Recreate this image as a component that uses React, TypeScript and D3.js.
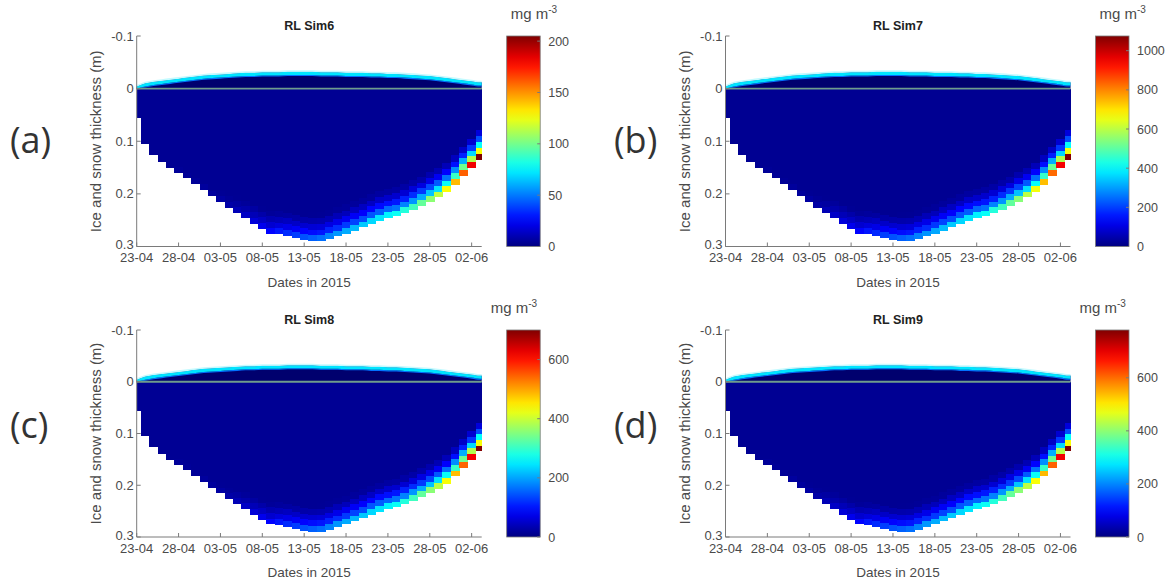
import React from 'react';
import * as d3 from 'd3';

// dates along the x axis (days since 23-04-2015)
const tickDays = [0, 5, 10, 15, 20, 25, 30, 35, 40];
const tickDates = ['23-04', '28-04', '03-05', '08-05', '13-05', '18-05', '23-05', '28-05', '02-06'];
const lastDay = 41.2;

const depthTicks = [-0.1, 0, 0.1, 0.2, 0.3];
const depthLabels = ['-0.1', '0', '0.1', '0.2', '0.3'];

// ice thickness (m) per day
const iceThickness = [
  0.056, 0.105, 0.125, 0.138, 0.15, 0.16, 0.17, 0.181, 0.192, 0.204,
  0.215, 0.226, 0.235, 0.245, 0.256, 0.266, 0.275, 0.276, 0.279, 0.283,
  0.287, 0.289, 0.289, 0.285, 0.28, 0.275, 0.269, 0.263, 0.256, 0.25,
  0.245, 0.242, 0.236, 0.229, 0.222, 0.214, 0.206, 0.196, 0.182, 0.165,
  0.15, 0.134,
];

// snow thickness (m) per day, above the ice surface
const snowThickness = [
  0.004, 0.01, 0.013, 0.015, 0.017, 0.019, 0.021, 0.023, 0.025, 0.026,
  0.027, 0.028, 0.029, 0.03, 0.03, 0.031, 0.031, 0.031, 0.032, 0.032,
  0.032, 0.032, 0.031, 0.031, 0.031, 0.03, 0.03, 0.03, 0.029, 0.029,
  0.028, 0.028, 0.027, 0.026, 0.025, 0.024, 0.022, 0.02, 0.018, 0.016,
  0.014, 0.012,
];

// chl a in the bottom ice layer (mg m-3) per day
const sim6Bottom = [
  4, 4, 4, 4, 4, 5, 5, 5, 6, 6, 7,
  8, 11, 14, 18, 22, 26, 30, 34, 38, 42,
  45, 48, 52, 56, 60, 63, 66, 69, 72, 75,
  79, 84, 90, 97, 105, 115, 127, 142, 160, 182, 205,
];
const sim7Bottom = [
  20, 20, 20, 20, 20, 25, 25, 25, 30, 30, 35,
  40, 55, 75, 95, 115, 135, 155, 175, 200, 220,
  235, 250, 270, 290, 310, 330, 345, 360, 375, 390,
  410, 440, 470, 505, 545, 600, 660, 740, 830, 950, 1070,
];
const sim8Bottom = [
  14, 14, 14, 14, 14, 17, 17, 17, 20, 20, 24,
  27, 37, 48, 61, 75, 88, 102, 116, 129, 143,
  153, 163, 177, 190, 204, 214, 224, 235, 245, 255,
  269, 286, 306, 330, 357, 391, 432, 483, 544, 619, 697,
];
const sim9Bottom = [
  15, 15, 15, 15, 15, 19, 19, 19, 23, 23, 27,
  30, 42, 53, 68, 84, 99, 114, 129, 144, 160,
  171, 182, 198, 213, 228, 239, 251, 262, 274, 285,
  300, 319, 342, 369, 399, 437, 483, 540, 608, 692, 779,
];

// share of the bottom value kept in the layers above it
const layerProfile = [1, 0.62, 0.38, 0.2, 0.09];
const layerThickness = 0.011;

const panels = [
  { tag: '(a)', title: 'RL Sim6', bottom: sim6Bottom, interior: 4, cmax: 205, cticks: [0, 50, 100, 150, 200], col: 0, row: 0 },
  { tag: '(b)', title: 'RL Sim7', bottom: sim7Bottom, interior: 20, cmax: 1075, cticks: [0, 200, 400, 600, 800, 1000], col: 1, row: 0 },
  { tag: '(c)', title: 'RL Sim8', bottom: sim8Bottom, interior: 14, cmax: 700, cticks: [0, 200, 400, 600], col: 0, row: 1 },
  { tag: '(d)', title: 'RL Sim9', bottom: sim9Bottom, interior: 15, cmax: 780, cticks: [0, 200, 400, 600], col: 1, row: 1 },
];

const jet = (t: number) => {
  const c = (v: number) => Math.round(255 * Math.max(0, Math.min(1, v)));
  return `rgb(${c(1.5 - Math.abs(4 * t - 3))},${c(1.5 - Math.abs(4 * t - 2))},${c(1.5 - Math.abs(4 * t - 1))})`;
};

const font = '"Liberation Sans", Arial, sans-serif';
const textGrey = '#4a4a4a';
const axisGrey = '#7a7a7a';

const rows = [{ top: 36, bottom: 246.5 }, { top: 330, bottom: 537 }];
const cols = [{ left: 136.7 }, { left: 725.5 }];
const axW = 345;

const Panel = ({ p }: { p: typeof panels[number] }) => {
  const { top, bottom } = rows[p.row];
  const { left } = cols[p.col];
  const x = d3.scaleLinear().domain([0, lastDay]).range([left, left + axW]);
  const y = d3.scaleLinear().domain([-0.1, 0.3]).range([top, bottom]);
  const color = d3.scaleSequential(jet).domain([0, p.cmax]);
  const days = d3.range(iceThickness.length);

  const cells: JSX.Element[] = [];
  days.forEach(d => {
    const x0 = x(Math.max(0, d - 0.5));
    const x1 = x(Math.min(lastDay, d + 0.5));
    const ice = iceThickness[d];
    cells.push(<rect key={`i${d}`} x={x0} y={y(0)} width={x1 - x0 + 0.6} height={y(ice) - y(0)} fill={color(p.interior)} />);
    layerProfile.forEach((f, k) => {
      const v = Math.max(p.interior, p.bottom[d] * f);
      const yb = ice - k * layerThickness;
      const yt = Math.max(0, yb - layerThickness);
      cells.push(<rect key={`l${d}-${k}`} x={x0} y={y(yt)} width={x1 - x0 + 0.6} height={y(yb) - y(yt) + 0.4} fill={color(v)} />);
    });
  });

  const snowPts = days.map(d => ({ d: Math.min(d, lastDay), s: snowThickness[d] }));
  snowPts.push({ d: lastDay, s: snowThickness[snowThickness.length - 1] });
  const band = (a: (s: number) => number, b: (s: number) => number) =>
    d3.area<{ d: number; s: number }>()
      .x(q => x(q.d))
      .y0(q => y(-Math.max(0, a(q.s))))
      .y1(q => y(-Math.max(0, b(q.s))))
      .curve(d3.curveMonotoneX)(snowPts) as string;

  const cbL = left + axW + 25;
  const cbW = 33.5;
  const cy = d3.scaleLinear().domain([0, p.cmax]).range([bottom, top]);
  const gradId = `jet${p.tag.replace(/\W/g, '')}`;
  const midX = left + axW / 2;

  return (
    <g>
      <defs>
        <linearGradient id={gradId} x1="0" y1="1" x2="0" y2="0">
          {d3.range(0, 1.0001, 0.05).map(t => <stop key={t} offset={t} stopColor={jet(t)} />)}
        </linearGradient>
      </defs>
      <text x={p.col === 0 ? 10 : 614} y={p.row === 0 ? 153 : 438} fontFamily='"Open Sans", "Liberation Sans", sans-serif' fontSize={36} fill="#333">{p.tag}</text>
      <text x={midX} y={top - 6} textAnchor="middle" fontFamily={font} fontWeight="bold" fontSize={12.5} fill="#222">{p.title}</text>

      <g shapeRendering="crispEdges">{cells}</g>

      <path d={band(s => s, () => 0)} fill="#00006e" />
      <path d={band(s => s - 0.008, s => s - 0.006)} fill="#0070ff" />
      <path d={band(s => s - 0.006, s => s)} fill="#00e4ff" />
      <path d={band(s => s, s => s + 0.003)} fill="#c4fbff" />
      <line x1={x(0)} x2={x(lastDay)} y1={y(0)} y2={y(0)} stroke="#6e9c8c" strokeWidth={1.8} />

      {/* axes */}
      <line x1={left} x2={left} y1={top} y2={bottom} stroke={axisGrey} />
      <line x1={left} x2={left + axW} y1={bottom} y2={bottom} stroke={axisGrey} />
      {depthTicks.map((t, i) => (
        <g key={t}>
          <line x1={left} x2={left + 4} y1={y(t)} y2={y(t)} stroke={axisGrey} />
          <text x={left - 3} y={y(t) + (i === depthTicks.length - 1 ? 2.5 : 4.5)} textAnchor="end" fontFamily={font} fontSize={13} fill={textGrey}>{depthLabels[i]}</text>
        </g>
      ))}
      {tickDays.map((t, i) => (
        <g key={t}>
          <line x1={x(t)} x2={x(t)} y1={bottom} y2={bottom - 4} stroke={axisGrey} />
          <text x={x(t)} y={bottom + 15.5} textAnchor="middle" fontFamily={font} fontSize={13} fill={textGrey}>{tickDates[i]}</text>
        </g>
      ))}
      <text x={midX} y={bottom + 40} textAnchor="middle" fontFamily={font} fontSize={13.5} fill={textGrey}>Dates in 2015</text>
      <text transform={`translate(${left - 36},${(top + bottom) / 2}) rotate(-90)`} textAnchor="middle" fontFamily={font} fontSize={15} fill={textGrey}>Ice and snow thickness (m)</text>

      {/* colorbar */}
      <rect x={cbL} y={top} width={cbW} height={bottom - top} fill={`url(#${gradId})`} stroke={axisGrey} strokeWidth={0.8} />
      {p.cticks.map(t => (
        <g key={t}>
          <line x1={cbL + cbW - 3} x2={cbL + cbW} y1={cy(t)} y2={cy(t)} stroke={axisGrey} />
          <text x={cbL + cbW + 8} y={cy(t) + 4.5} fontFamily={font} fontSize={12.5} fill={textGrey}>{t}</text>
        </g>
      ))}
      <text x={cbL + (p.row === 0 ? 4 : -16)} y={top - 17} fontFamily={font} fontSize={15} fill={textGrey}>
        mg m<tspan fontSize={10} dy={-6}>-3</tspan>
      </text>
    </g>
  );
};

export default function App() {
  return (
    <svg width={1171} height={586} style={{ display: 'block', position: 'absolute', left: 0, top: 0, background: '#fff' }}>
      {panels.map(p => <Panel key={p.tag} p={p} />)}
    </svg>
  );
}
